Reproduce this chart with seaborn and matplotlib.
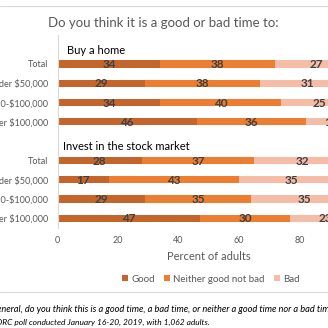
import matplotlib
matplotlib.use("Agg")
import matplotlib.pyplot as plt
import seaborn as sns
import pandas as pd
import numpy as np
from matplotlib.patches import Patch
from matplotlib.lines import Line2D

sns.set_theme(style="white")
plt.rcParams['font.family'] = ['Lato', 'DejaVu Sans']

# ---- data ----
groups = ["Buy a home", "Invest in the stock market"]
income = ["Total", "Under $50,000", "$50,000-$100,000", "Over $100,000"]
good = [34, 29, 34, 46, 28, 17, 29, 47]
neither = [38, 38, 40, 36, 37, 43, 35, 30]
bad = [27, 31, 25, 17, 32, 35, 35, 23]
series = ["Good", "Neither good not bad", "Bad"]
colors = ["#C4652C", "#ED7D31", "#F5BCA6"]

# row keys (header rows are empty slots)
order = []
labels = []
rows = []
k = 0
for gi, g in enumerate(groups):
    order.append(f"h{gi}")
    labels.append("")
    for inc in income:
        key = f"r{k}"
        order.append(key)
        labels.append(inc.replace("$", r"\$"))
        rows.append(dict(key=key, good=good[k], neither=neither[k], bad=bad[k]))
        k += 1
df = pd.DataFrame(rows)
df["c1"] = df["good"]
df["c2"] = df["good"] + df["neither"]
df["c3"] = df["good"] + df["neither"] + df["bad"]

fig = plt.figure(figsize=(3.28, 3.28), dpi=100)
ax = fig.add_axes([57.5 / 328, 1 - 228 / 328, (360 - 57.5) / 328, (228 - 35) / 328])

for col, c in zip(["c3", "c2", "c1"], colors[::-1]):
    sns.barplot(data=df, y="key", x=col, order=order, color=c, orient="h",
                width=0.37, ax=ax, saturation=1, errorbar=None, linewidth=0)

# value labels
for i, r in df.iterrows():
    y = order.index(r["key"])
    for start, val in [(0, r["good"]), (r["c1"], r["neither"]), (r["c2"], r["bad"])]:
        ax.text(start + val / 2, y + 0.03, f"{val}", ha="center", va="center",
                fontsize=8.5, fontweight="bold", color="#404040")

# group headers
for gi, g in enumerate(groups):
    y = order.index(f"h{gi}")
    ax.text(3 if gi == 0 else 1.8, y + 0.3, g, ha="left", va="center", fontsize=8, color="#000000")

ax.set_xlim(0, 100)
ax.set_ylim(9.5, -0.5)
ax.set_yticks(range(len(order)))
ax.set_yticklabels(labels, fontsize=6.6, color="#595959")
ax.set_xticks([0, 20, 40, 60, 80, 100])
ax.set_xticklabels(["0", "20", "40", "60", "80", "100"], fontsize=6.5, color="#595959")
ax.tick_params(axis="y", length=0, pad=6.5)
ax.tick_params(axis="x", length=0, pad=6)
ax.set_ylabel("")
ax.set_xlabel("Percent of adults", fontsize=8, color="#595959", labelpad=4)
for s in ["top", "right", "bottom"]:
    ax.spines[s].set_visible(False)
ax.spines["left"].set_color("#D9D9D9")
ax.spines["left"].set_linewidth(0.8)

# title
fig.text(163 / 328, 1 - 23 / 328, "Do you think it is a good or bad time to:",
         ha="center", va="center", fontsize=9.5, color="#595959")

# legend
handles = [Patch(facecolor=c, edgecolor="none") for c in colors]
fig.legend(handles, series, loc="center", bbox_to_anchor=(211 / 328, 1 - 279 / 328),
           ncol=3, frameon=False, fontsize=7, handlelength=0.6, handleheight=0.6,
           handletextpad=0.3, columnspacing=1.0, labelcolor="#595959")

# frame lines
fig.add_artist(Line2D([0, 1], [1 - 5.5 / 328] * 2, transform=fig.transFigure, color="#D9D9D9", lw=0.8))
fig.add_artist(Line2D([0, 1], [1 - 292 / 328] * 2, transform=fig.transFigure, color="#D9D9D9", lw=0.8))

# footnote
fig.text(-17 / 328, 1 - 310 / 328,
         "In general, do you think this is a good time, a bad time, or neither a good time nor a bad time to...",
         ha="left", va="center", fontsize=6.7, style="italic", color="#000000")
fig.text(210 / 328, 1 - 322 / 328,
         "AP-NORC poll conducted January 16-20, 2019, with 1,062 adults.",
         ha="right", va="center", fontsize=6.05, style="italic", color="#000000")

fig.savefig("out.png", dpi=100)
